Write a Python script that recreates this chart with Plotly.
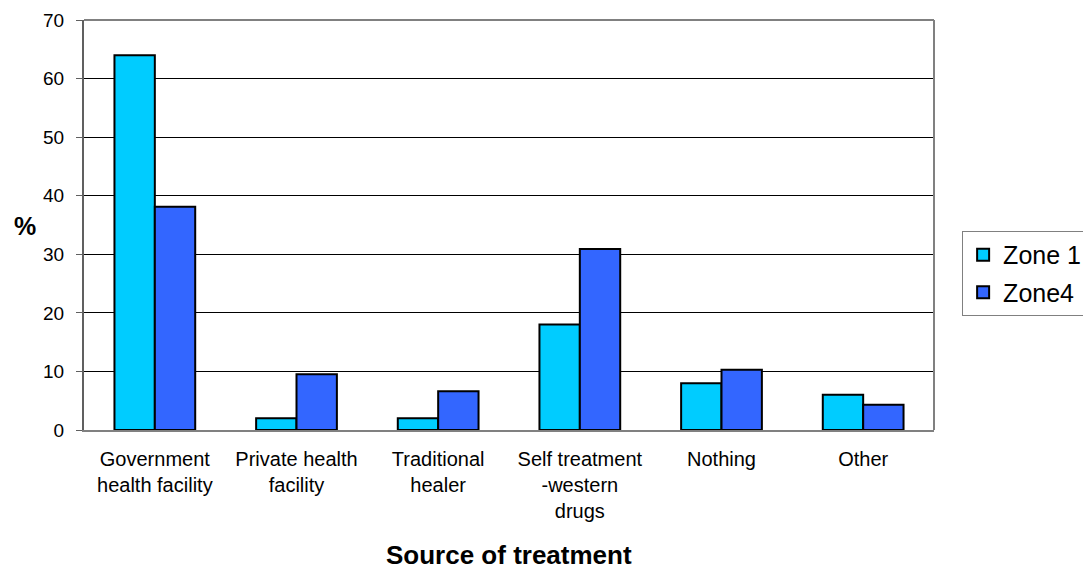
import plotly.graph_objects as go

categories = ["Government<br>health facility", "Private health<br>facility", "Traditional<br>healer",
              "Self treatment<br>-western<br>drugs", "Nothing", "Other"]
zone1 = [64, 2, 2, 18, 8, 6]
zone4 = [38.1, 9.5, 6.6, 30.9, 10.3, 4.3]
y_ticks = [0, 10, 20, 30, 40, 50, 60, 70]

FONT = "Liberation Sans, Arial, sans-serif"

fig = go.Figure()
fig.add_trace(go.Bar(x=categories, y=zone1, name="Zone 1", legendgroup="a",
                     marker=dict(color="#00CCFF", line=dict(color="black", width=2))))
fig.add_trace(go.Bar(x=categories, y=zone4, name="Zone4", legendgroup="b",
                     marker=dict(color="#3366FF", line=dict(color="black", width=2))))

fig.update_layout(
    width=1083, height=561,
    margin=dict(l=76, r=157, t=12, b=139),
    paper_bgcolor="white", plot_bgcolor="white",
    barmode="group", bargap=0.43, bargroupgap=0,
    font=dict(family=FONT, size=20, color="black"),
    xaxis=dict(showline=True, linecolor="#808080", linewidth=2, mirror=False, automargin=False,
               ticks="", tickfont=dict(size=20), showgrid=False, ticklabelstandoff=10),
    yaxis=dict(range=[0, 70], tickvals=y_ticks, showline=True, linecolor="#606060", linewidth=2,
               automargin=False,
               ticks="outside", ticklen=6, tickcolor="#606060", tickwidth=1,
               showgrid=True, gridcolor="black", gridwidth=1, zeroline=False,
               tickfont=dict(size=19), ticklabelstandoff=8),
    legend=dict(x=0.881, y=0.6025, xref="container", yref="container",
                xanchor="left", yanchor="top",
                bordercolor="#808080", borderwidth=1, font=dict(size=25),
                traceorder="grouped", tracegroupgap=2),
    showlegend=True,
    shapes=[
        dict(type="line", xref="paper", yref="paper", x0=0, x1=1, y0=1, y1=1,
             line=dict(color="#808080", width=2)),
        dict(type="line", xref="paper", yref="paper", x0=1, x1=1, y0=0, y1=1,
             line=dict(color="#808080", width=2)),
    ],
    annotations=[
        dict(text="<b>%</b>", xref="paper", yref="paper", x=-0.0694, y=0.4976,
             showarrow=False, font=dict(size=25), xanchor="center", yanchor="middle"),
        dict(text="<b>Source of treatment</b>", xref="paper", yref="paper", x=0.5, y=-0.306,
             showarrow=False, font=dict(size=26), xanchor="center", yanchor="middle"),
    ],
)

fig.write_html("out.html")
